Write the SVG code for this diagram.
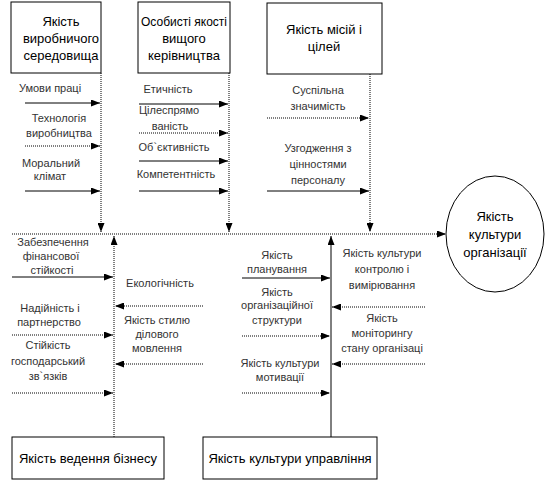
<svg xmlns="http://www.w3.org/2000/svg" width="551" height="483" viewBox="0 0 551 483">
<defs>
<marker id="ah" markerWidth="9" markerHeight="7" refX="9" refY="3.5" orient="auto" markerUnits="userSpaceOnUse">
<path d="M0,0 L9,3.5 L0,7 z" fill="#000"/>
</marker>
<style>
.box{fill:#fff;stroke:#000;stroke-width:1}
.bt{font-family:"Liberation Sans",Arial,sans-serif;font-size:13px;font-weight:normal;fill:#000;text-anchor:middle}
.lt{font-family:"Liberation Sans",Arial,sans-serif;font-size:11px;font-weight:normal;fill:#333;text-anchor:middle}
.sol{stroke:#000;stroke-width:1;fill:none}
.dot{stroke:#000;stroke-width:1;fill:none;stroke-dasharray:1 1}
.arr{marker-end:url(#ah)}
</style>
</defs>
<rect width="551" height="483" fill="#fff"/>

<g id="connectors">
<line class="dot arr" x1="12" y1="234" x2="446" y2="234"/>
<line class="dot arr" x1="101" y1="73" x2="101" y2="232"/>
<line class="dot arr" x1="229" y1="73" x2="229" y2="232"/>
<line class="dot arr" x1="370" y1="74" x2="370" y2="232"/>
<line class="dot arr" x1="114" y1="437" x2="114" y2="236"/>
<line class="sol arr" x1="331" y1="437" x2="331" y2="236"/>
<line class="sol arr" x1="25" y1="103" x2="100" y2="103"/>
<line class="dot arr" x1="25" y1="146" x2="100" y2="146"/>
<line class="sol arr" x1="25" y1="191" x2="100" y2="191"/>
<line class="sol arr" x1="139" y1="104" x2="228" y2="104"/>
<line class="dot arr" x1="139" y1="133" x2="228" y2="133"/>
<line class="sol arr" x1="139" y1="161" x2="228" y2="161"/>
<line class="sol arr" x1="139" y1="191" x2="228" y2="191"/>
<line class="dot arr" x1="267" y1="118" x2="369" y2="118"/>
<line class="sol arr" x1="267" y1="191" x2="369" y2="191"/>
<line class="sol arr" x1="12" y1="277" x2="113" y2="277"/>
<line class="dot arr" x1="12" y1="335" x2="113" y2="335"/>
<line class="dot arr" x1="12" y1="393" x2="113" y2="393"/>
<line class="dot arr" x1="203" y1="306" x2="115" y2="306"/>
<line class="dot arr" x1="203" y1="364" x2="115" y2="364"/>
<line class="sol arr" x1="242" y1="278" x2="330" y2="278"/>
<line class="dot arr" x1="242" y1="336" x2="330" y2="336"/>
<line class="dot arr" x1="242" y1="393" x2="330" y2="393"/>
<line class="dot arr" x1="425" y1="307" x2="332" y2="307"/>
<line class="dot arr" x1="425" y1="364" x2="332" y2="364"/>
</g>

<g id="labels">
<text class="lt" x="50" y="92">Умови праці</text>
<text class="lt" x="59" y="122">Технологія</text>
<text class="lt" x="59" y="137">виробництва</text>
<text class="lt" x="51" y="167">Моральний</text>
<text class="lt" x="50" y="180">клімат</text>

<text class="lt" x="168" y="93">Етичність</text>
<text class="lt" x="169" y="114">Цілеспрямо</text>
<text class="lt" x="170" y="130">ваність</text>
<text class="lt" x="174" y="151">Об`єктивність</text>
<text class="lt" x="176" y="178">Компетентність</text>

<text class="lt" x="318" y="94">Суспільна</text>
<text class="lt" x="318" y="110">значимість</text>
<text class="lt" x="318" y="152">Узгодження з</text>
<text class="lt" x="318" y="168">цінностями</text>
<text class="lt" x="318" y="184">персоналу</text>

<text class="lt" x="53" y="246">Забезпечення</text>
<text class="lt" x="51" y="260">фінансової</text>
<text class="lt" x="52" y="274">стійкості</text>
<text class="lt" x="50" y="312">Надійність і</text>
<text class="lt" x="49" y="326">партнерство</text>
<text class="lt" x="48" y="349">Стійкість</text>
<text class="lt" x="48" y="365">господарський</text>
<text class="lt" x="48" y="380">зв`язків</text>

<text class="lt" x="160" y="287">Екологічність</text>
<text class="lt" x="157" y="324">Якість стилю</text>
<text class="lt" x="157" y="338">ділового</text>
<text class="lt" x="157" y="352">мовлення</text>

<text class="lt" x="277" y="259">Якість</text>
<text class="lt" x="277" y="273">планування</text>
<text class="lt" x="277" y="296">Якість</text>
<text class="lt" x="277" y="309">організаційної</text>
<text class="lt" x="277" y="324">структури</text>
<text class="lt" x="280" y="367">Якість культури</text>
<text class="lt" x="280" y="381">мотивації</text>

<text class="lt" x="382" y="257">Якість культури</text>
<text class="lt" x="382" y="273">контролю і</text>
<text class="lt" x="382" y="289">вимірювання</text>
<text class="lt" x="382" y="322">Якість</text>
<text class="lt" x="382" y="337">моніторингу</text>
<text class="lt" x="382" y="352">стану організаці</text>
</g>

<g id="box1">
<rect class="box" x="11" y="2" width="90" height="71"/>
<text class="bt" x="61" y="26">Якість</text>
<text class="bt" x="61" y="43">виробничого</text>
<text class="bt" x="61" y="60">середовища</text>
</g>
<g id="box2">
<rect class="box" x="138" y="2" width="92" height="71"/>
<text class="bt" x="184" y="26" textLength="86" lengthAdjust="spacingAndGlyphs">Особисті якості</text>
<text class="bt" x="184" y="43">вищого</text>
<text class="bt" x="184" y="60">керівництва</text>
</g>
<g id="box3">
<rect class="box" x="267" y="3" width="115" height="71"/>
<text class="bt" x="324" y="34">Якість місій і</text>
<text class="bt" x="324" y="51">цілей</text>
</g>
<g id="box4">
<rect class="box" x="12" y="437" width="152" height="42"/>
<text class="bt" x="88" y="463">Якість ведення бізнесу</text>
</g>
<g id="box5">
<rect class="box" x="203" y="437" width="174" height="42"/>
<text class="bt" x="290" y="463">Якість культури управління</text>
</g>
<g id="result">
<ellipse cx="495" cy="234" rx="49" ry="58" fill="#fff" stroke="#000" stroke-width="1"/>
<text class="bt" x="495" y="221">Якість</text>
<text class="bt" x="495" y="239">культури</text>
<text class="bt" x="495" y="257">організації</text>
</g>
</svg>
